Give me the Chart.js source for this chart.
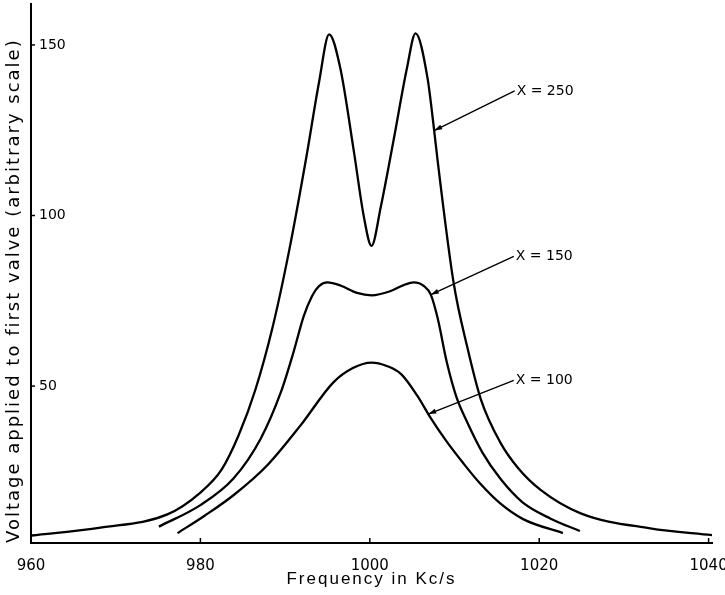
<!DOCTYPE html>
<html lang="en">
<head>
<meta charset="UTF-8">
<title>Voltage applied to first valve</title>
<style>
  html, body { margin: 0; padding: 0; background: #fff; }
  #wrap { width: 725px; height: 595px; }
</style>
<script src="https://cdn.jsdelivr.net/npm/chart.js"></script>
</head>
<body>
<div id="wrap"><canvas id="chart" width="725" height="595"></canvas></div>
<script>
  // X = 250 (double hump)
  const freq250 = [960.1, 968.2, 976.1, 980.0, 982.5, 984.5, 986.5, 988.5, 990.5, 992.5, 994.0, 995.2,
                   996.5, 998.1, 999.3, 1000.2, 1001.3, 1002.8, 1004.4, 1005.4,
                   1006.8, 1007.6, 1008.0, 1009.9, 1011.5, 1013.1, 1015.4, 1017.5, 1020.2, 1024.9, 1033.1, 1040.4];
  const volt250 = [6.2, 8.5, 12.4, 18.8, 25.5, 35.5, 49.0, 67.0, 90.0, 117.0, 139.0, 153.1,
                   143.4, 119.1, 99.6, 91.1, 102.6, 122.0, 143.4, 153.4,
                   140.5, 124.9, 116.2, 80.2, 61.5, 46.2, 33.5, 26.0, 19.5, 12.7, 8.3, 6.3];

  // X = 150 (flat top with a shallow dip)
  const freq150 = [975.1, 980.0, 983.9, 987.1, 989.5, 991.0, 992.2, 993.2, 994.0, 995.0, 996.6, 998.5,
                   1000.2, 1002.4, 1004.0, 1005.2, 1006.4, 1007.2, 1008.0, 1009.1, 1010.2, 1011.5,
                   1013.3, 1015.4, 1018.0, 1021.3, 1024.8];
  const volt150 = [8.8, 15.1, 22.9, 34.5, 48.2, 60.0, 70.5, 76.5, 79.3, 80.4, 79.4, 77.3,
                   76.6, 77.8, 79.6, 80.4, 79.3, 76.8, 70.0, 56.9, 47.0, 39.4,
                   30.5, 22.9, 16.0, 11.2, 7.5];

  // X = 100 (single hump)
  const freq100 = [977.3, 980.5, 983.9, 987.9, 991.8, 995.7, 998.0, 1000.2, 1002.0, 1003.7, 1005.6,
                   1007.2, 1009.0, 1011.0, 1013.0, 1015.4, 1018.1, 1022.8];
  const volt100 = [6.9, 12.0, 18.0, 26.8, 38.4, 51.1, 55.3, 56.9, 55.9, 53.5, 47.2,
                   40.6, 34.0, 27.5, 21.5, 15.6, 11.0, 6.9];

  const xTicks = [960, 980, 1000, 1020, 1040];
  const yTicks = [50, 100, 150];

  // leader arrows: where each one touches its curve and where its label starts
  const curveNames = ['X = 250', 'X = 150', 'X = 100'];
  const arrowFreq = [1007.6, 1007.2, 1006.9];
  const arrowVolt = [124.9, 76.8, 41.8];
  const labelFreq = [1017.1, 1017.0, 1017.0];
  const labelVolt = [136.5, 88.0, 51.7];

  const FONT = '"DejaVu Sans", sans-serif';

  function toPoints(xs, ys) {
    return xs.map((x, i) => ({ x: x, y: ys[i] }));
  }

  function curve(xs, ys) {
    return {
      data: toPoints(xs, ys),
      borderColor: '#000',
      borderWidth: 2.3,
      pointRadius: 0,
      fill: false,
      cubicInterpolationMode: 'monotone'
    };
  }

  // the hand lettered axis titles are widely spaced; titles are drawn before
  // the datasets and tick labels are pushed after them (ticks.z = 1)
  const wideTitles = {
    id: 'wideTitles',
    beforeDraw(chart) { chart.ctx.letterSpacing = '2px'; },
    beforeDatasetsDraw(chart) { chart.ctx.letterSpacing = '0px'; }
  };

  // small inward tick marks, like the hand drawn axes
  const innerTicks = {
    id: 'innerTicks',
    afterDraw(chart) {
      const { ctx, chartArea: a, scales: { x, y } } = chart;
      ctx.save();
      ctx.strokeStyle = '#000';
      ctx.lineWidth = 1.5;
      yTicks.forEach(v => {
        const py = y.getPixelForValue(v);
        ctx.beginPath();
        ctx.moveTo(a.left, py);
        ctx.lineTo(a.left + 4, py);
        ctx.stroke();
      });
      xTicks.slice(1).forEach(v => {
        const px = x.getPixelForValue(v);
        ctx.beginPath();
        ctx.moveTo(px, a.bottom);
        ctx.lineTo(px, a.bottom - 5);
        ctx.stroke();
      });
      ctx.restore();
    }
  };

  const leaders = {
    id: 'leaders',
    afterDatasetsDraw(chart) {
      const { ctx, scales: { x, y } } = chart;
      ctx.save();
      ctx.strokeStyle = '#000';
      ctx.fillStyle = '#000';
      ctx.lineWidth = 1.4;
      ctx.font = '14px ' + FONT;
      ctx.textBaseline = 'middle';
      ctx.textAlign = 'left';
      curveNames.forEach((name, i) => {
        const tx = x.getPixelForValue(arrowFreq[i]);
        const ty = y.getPixelForValue(arrowVolt[i]);
        const lx = x.getPixelForValue(labelFreq[i]);
        const ly = y.getPixelForValue(labelVolt[i]);
        ctx.beginPath();
        ctx.moveTo(tx, ty);
        ctx.lineTo(lx, ly);
        ctx.stroke();
        // arrow head pointing at the curve
        const ang = Math.atan2(ly - ty, lx - tx);
        const len = 8, half = 2.5;
        const bx = tx + Math.cos(ang) * len, by = ty + Math.sin(ang) * len;
        ctx.beginPath();
        ctx.moveTo(tx, ty);
        ctx.lineTo(bx - Math.sin(ang) * half, by + Math.cos(ang) * half);
        ctx.lineTo(bx + Math.sin(ang) * half, by - Math.cos(ang) * half);
        ctx.closePath();
        ctx.fill();
        ctx.fillText(name, lx + 2, ly);
      });
      ctx.restore();
    }
  };

  new Chart(document.getElementById('chart'), {
    type: 'line',
    data: {
      datasets: [
        curve(freq250, volt250),
        curve(freq150, volt150),
        curve(freq100, volt100)
      ]
    },
    options: {
      responsive: false,
      animation: false,
      layout: { padding: { top: 4, right: 13, left: 0, bottom: 0 } },
      plugins: {
        legend: { display: false },
        tooltip: { enabled: false }
      },
      scales: {
        x: {
          type: 'linear',
          min: 960,
          max: 1040.4,
          grid: { display: false },
          border: { display: true, color: '#000', width: 2 },
          afterBuildTicks: s => { s.ticks = xTicks.map(v => ({ value: v })); },
          afterFit: s => {
            s.height = 52;
            s.paddingLeft = 0;
            s.paddingRight = 0;
          },
          ticks: {
            z: 1,
            color: '#000',
            padding: 6,
            font: { family: FONT, size: 15 },
            callback: v => String(v)
          },
          title: {
            display: true,
            text: 'Frequency in Kc/s',
            color: '#000',
            font: { family: '"Liberation Sans", sans-serif', size: 17 },
            padding: { top: 0, bottom: 5 }
          }
        },
        y: {
          type: 'linear',
          min: 4,
          max: 162,
          grid: { display: false },
          border: { display: true, color: '#000', width: 2 },
          afterBuildTicks: s => { s.ticks = yTicks.map(v => ({ value: v })); },
          afterFit: s => {
            s.width = 31;
            s.paddingTop = 0;
            s.paddingBottom = 0;
          },
          ticks: {
            z: 1,
            color: '#000',
            mirror: true,
            padding: 8,
            font: { family: FONT, size: 14 },
            callback: v => String(v)
          },
          title: {
            display: true,
            align: 'start',
            text: 'Voltage applied to first valve (arbitrary scale)',
            color: '#000',
            font: { family: FONT, size: 18 },
            padding: { top: 4, bottom: 0 }
          }
        }
      }
    },
    plugins: [wideTitles, innerTicks, leaders]
  });
</script>
</body>
</html>
